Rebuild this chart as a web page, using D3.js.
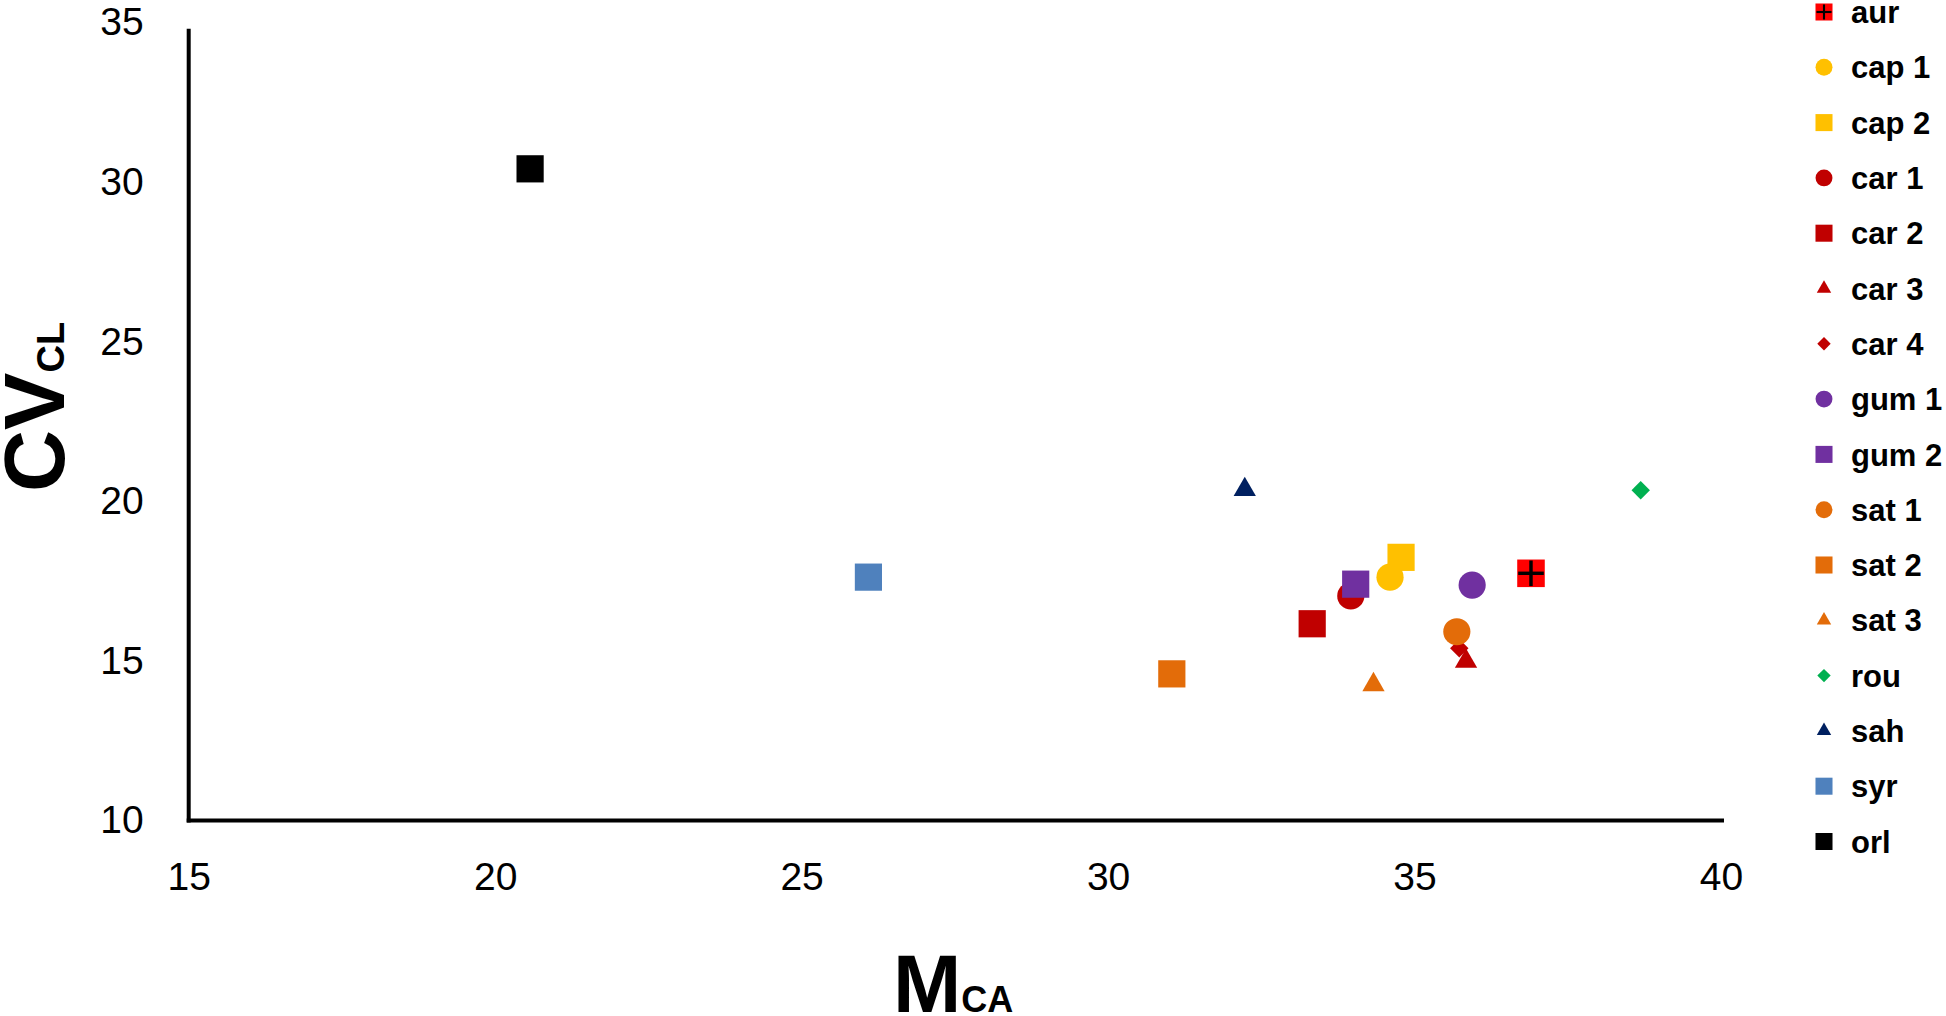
<!DOCTYPE html>
<html>
<head>
<meta charset="utf-8">
<script src="https://cdn.jsdelivr.net/npm/d3@7"></script>
<style>
  html, body { margin: 0; padding: 0; background: #fff; }
  svg { display: block; font-family: "Liberation Sans", Arial, sans-serif; }
</style>
</head>
<body>
<svg id="chart" width="1946" height="1016"></svg>
<script>
// ---- data ----
const seriesNames = ["aur","cap 1","cap 2","car 1","car 2","car 3","car 4","gum 1","gum 2","sat 1","sat 2","sat 3","rou","sah","syr","orl"];
const mcaValues  = [36.90, 34.60, 34.78, 33.96, 33.33, 35.84, 35.73, 35.94, 34.04, 35.69, 31.04, 34.33, 38.69, 32.23, 26.09, 20.57];
const cvclValues = [17.74, 17.62, 18.24, 17.03, 16.16, 14.98, 15.39, 17.37, 17.40, 15.91, 14.59, 14.25, 20.34, 20.36, 17.62, 30.41];
const markerShapes = ["squarePlus","circle","square","circle","square","triangle","diamond","circle","square","circle","square","triangle","diamond","triangle","square","square"];
const markerColors = ["#FF0000","#FFC000","#FFC000","#C00000","#C00000","#C00000","#C00000","#7030A0","#7030A0","#E36C09","#E36C09","#E36C09","#00B050","#002060","#4F81BD","#000000"];
const xTicks = [15, 20, 25, 30, 35, 40];
const yTicks = [10, 15, 20, 25, 30, 35];

// ---- layout ----
const svg = d3.select("#chart");
const x = d3.scaleLinear().domain([15, 40]).range([188.7, 1721]);
const y = d3.scaleLinear().domain([10, 35]).range([820.4, 22.3]);

// marker sizes (area) for plot and legend
const plotSize = {square: 740, squarePlus: 760, circle: 580, triangle: 215, diamond: 170};
const legendSize = {square: 290, squarePlus: 290, circle: 225, triangle: 90, diamond: 90};

function drawMarker(g, shape, color, size) {
  if (shape === "circle") {
    g.append("path").attr("d", d3.symbol(d3.symbolCircle, size)()).attr("fill", color);
  } else if (shape === "square" || shape === "squarePlus") {
    g.append("path").attr("d", d3.symbol(d3.symbolSquare, size)()).attr("fill", color);
    if (shape === "squarePlus") {
      const h = Math.sqrt(size) / 2 - 1;
      const w = Math.max(2, Math.sqrt(size) / 8);
      g.append("line").attr("x1", -h).attr("x2", h).attr("y1", 0).attr("y2", 0)
        .attr("stroke", "#000").attr("stroke-width", w);
      g.append("line").attr("y1", -h).attr("y2", h).attr("x1", 0).attr("x2", 0)
        .attr("stroke", "#000").attr("stroke-width", w);
    }
  } else if (shape === "triangle") {
    g.append("path").attr("d", d3.symbol(d3.symbolTriangle, size)()).attr("fill", color);
  } else if (shape === "diamond") {
    g.append("path").attr("d", d3.symbol(d3.symbolSquare, size)())
      .attr("transform", "rotate(45)").attr("fill", color);
  }
}

// ---- axes lines ----
const yAxis = d3.axisLeft(y).tickValues(yTicks).tickSize(0).tickPadding(45);
const gy = svg.append("g").attr("transform", `translate(${x(15)},0)`).call(yAxis);
gy.select(".domain").remove();
gy.selectAll("text").attr("font-size", 39).attr("fill", "#000")
  .attr("font-family", "Liberation Sans, Arial, sans-serif");

const xAxis = d3.axisBottom(x).tickValues(xTicks).tickSize(0).tickPadding(42);
const gx = svg.append("g").attr("transform", `translate(0,${y(10)})`).call(xAxis);
gx.select(".domain").remove();
gx.selectAll("text").attr("font-size", 39).attr("fill", "#000")
  .attr("font-family", "Liberation Sans, Arial, sans-serif");

svg.append("line").attr("x1", x(15)).attr("x2", x(15))
  .attr("y1", y(34.8)).attr("y2", y(10) + 2)
  .attr("stroke", "#000").attr("stroke-width", 4);
svg.append("line").attr("x1", x(15) - 2).attr("x2", x(40) + 3)
  .attr("y1", y(10)).attr("y2", y(10))
  .attr("stroke", "#000").attr("stroke-width", 4);

// ---- points ----
const pts = svg.append("g");
seriesNames.forEach((name, i) => {
  const g = pts.append("g").attr("transform", `translate(${x(mcaValues[i])},${y(cvclValues[i])})`);
  drawMarker(g, markerShapes[i], markerColors[i], plotSize[markerShapes[i]]);
});

// ---- axis titles ----
const xt = svg.append("text").attr("x", 893).attr("y", 1012)
  .attr("font-weight", "bold").attr("fill", "#000");
xt.append("tspan").attr("font-size", 82).text("M");
xt.append("tspan").attr("font-size", 36).text("CA");

const yt = svg.append("text").attr("transform", "translate(64,492) rotate(-90)")
  .attr("font-weight", "bold").attr("fill", "#000");
yt.append("tspan").attr("font-size", 86).text("CV");
yt.append("tspan").attr("font-size", 38).text("CL");

// ---- legend ----
const legend = svg.append("g");
seriesNames.forEach((name, i) => {
  const ly = 12 + 55.3 * i;
  const g = legend.append("g").attr("transform", `translate(1824,${ly})`);
  drawMarker(g, markerShapes[i], markerColors[i], legendSize[markerShapes[i]]);
  legend.append("text").attr("x", 1851).attr("y", ly).attr("dy", "0.36em")
    .attr("font-size", 31).attr("font-weight", "bold").attr("fill", "#000").text(name);
});
</script>
</body>
</html>
